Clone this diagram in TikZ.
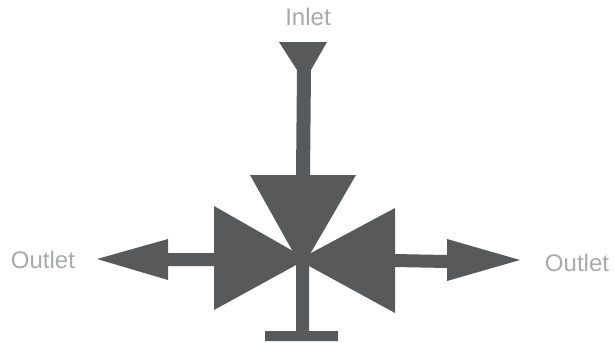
\documentclass[tikz,border=0pt]{standalone}
\usepackage{fontspec}
\setmainfont{Liberation Sans}
\definecolor{symbolgray}{HTML}{58595B}
\definecolor{labelgray}{HTML}{A7A9AC}

\begin{document}
\begin{tikzpicture}[x=1pt, y=-1pt]
    \tikzset{
        symbolpart/.style={fill=symbolgray, draw=none},
        portlabel/.style={text=labelgray, font=\fontsize{24}{26}\selectfont, inner sep=0pt}
    }
    % Coordinates are the pixels of the picture, origin top-left
    \useasboundingbox (0, 0) rectangle (614, 343);

    % --- Inlet (funnel and stem) ---
    \fill[symbolpart] (279, 42) -- (327, 42) -- (311, 70) -- (310, 176) -- (296, 176) -- (297, 70) -- cycle;

    % --- Valve triangles ---
    \fill[symbolpart] (250, 175) -- (356, 175) -- (302, 268) -- cycle; % Top
    \fill[symbolpart] (214, 206) -- (307, 259) -- (214, 310) -- cycle; % Left
    \fill[symbolpart] (395, 208) -- (298, 260) -- (395, 313) -- cycle; % Right

    % --- Outlets (shaft and arrow head) ---
    \fill[symbolpart] (215, 253) -- (168, 253) -- (168, 239) -- (97, 259) -- (168, 280) -- (168, 266) -- (215, 266) -- cycle;
    \fill[symbolpart] (394, 254) -- (447, 255) -- (447, 239) -- (520, 260) -- (447, 281) -- (447, 268) -- (394, 267) -- cycle;

    % --- Bottom stem and bar ---
    \fill[symbolpart] (296, 260) -- (309, 260) -- (309, 331) -- (338, 331) -- (338, 341) -- (265, 341) -- (265, 331) -- (296, 331) -- cycle;

    % --- Text Labels ---
    \node[portlabel] (inlet) at (308, 17) {Inlet};
    \node[portlabel] (outletleft) at (43, 260) {Outlet};
    \node[portlabel] (outletright) at (577, 263) {Outlet};

\end{tikzpicture}
\end{document}
